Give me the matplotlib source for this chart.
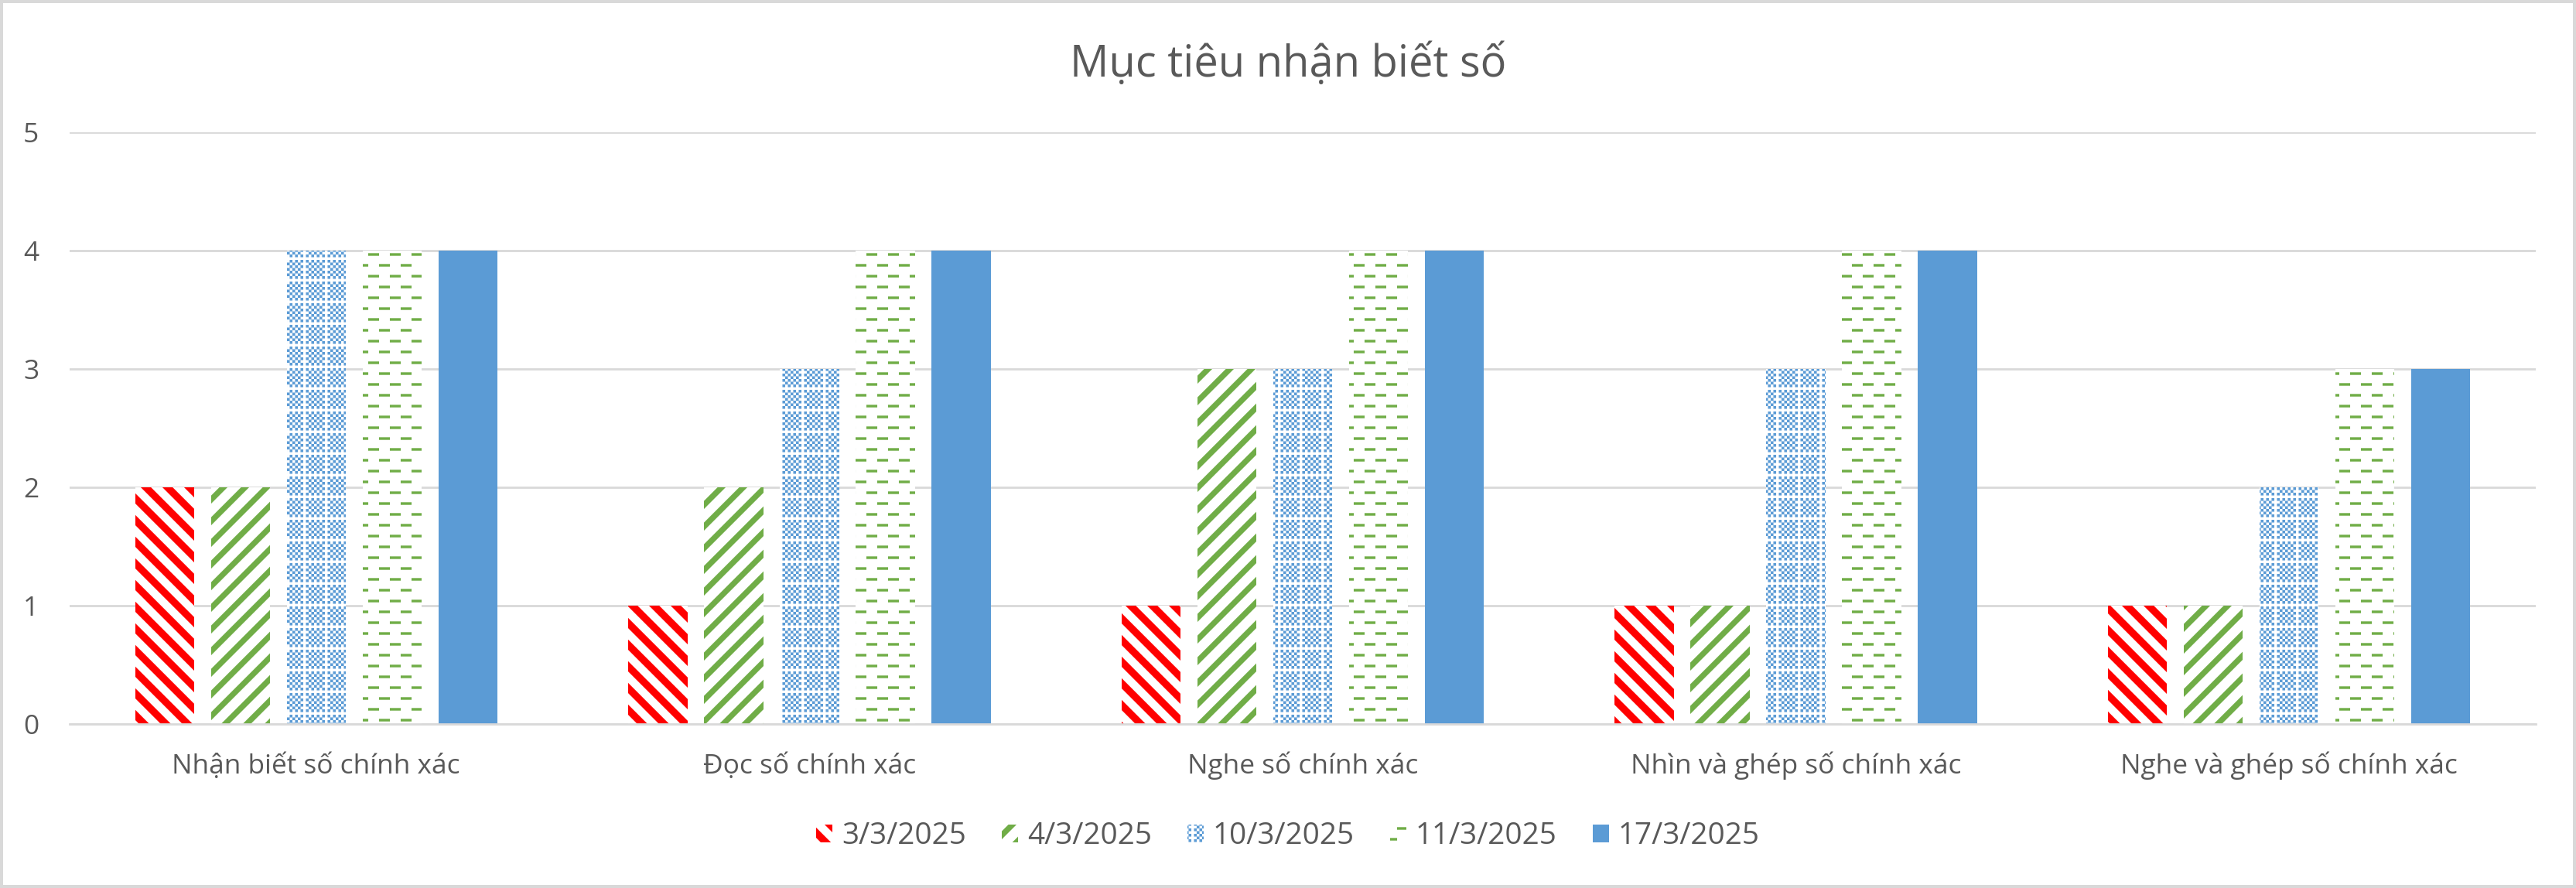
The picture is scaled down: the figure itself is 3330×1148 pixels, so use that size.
import numpy as np
import matplotlib
matplotlib.use('Agg')
import matplotlib.pyplot as plt
import matplotlib.hatch as mhatch
from matplotlib.path import Path

# du lieu doc tu bieu do
title = 'Mục tiêu nhận biết số'
categories = ['Nhận biết số chính xác', 'Đọc số chính xác', 'Nghe số chính xác',
              'Nhìn và ghép số chính xác', 'Nghe và ghép số chính xác']
dates = ['3/3/2025', '4/3/2025', '10/3/2025', '11/3/2025', '17/3/2025']
s_0303 = [2, 1, 1, 1, 1]
s_0403 = [2, 2, 3, 1, 1]
s_1003 = [4, 3, 3, 3, 2]
s_1103 = [4, 4, 4, 4, 3]
s_1703 = [4, 4, 4, 4, 3]
y_ticks = [0, 1, 2, 3, 4, 5]

DPI = 112  # 1 o hatch = 112 px
TEXT = '#595959'
GRID = '#D9D9D9'


# cac mau hatch kieu Excel, ve bang da giac to kin
class FilledHatch(mhatch.HatchPatternBase):
    key = None

    def __init__(self, hatch, density):
        self.polys = self.make() if (hatch and self.key in hatch) else []
        self.num_vertices = 5 * len(self.polys)

    def make(self):
        return []

    def set_vertices_and_codes(self, vertices, codes):
        for k, p in enumerate(self.polys):
            vertices[5 * k:5 * k + 4] = p
            vertices[5 * k + 4] = p[0]
            codes[5 * k] = Path.MOVETO
            codes[5 * k + 1:5 * k + 4] = Path.LINETO
            codes[5 * k + 4] = Path.CLOSEPOLY


class WideDown(FilledHatch):
    key = '\\'

    def make(self):
        n, w = 4, 0.47 / 4
        out = []
        for k in range(-n, 3 * n):
            c = k / n
            out.append([(c + 2, -2), (c + w + 2, -2), (c + w - 3, 3), (c - 3, 3)])
        return out


class WideUp(FilledHatch):
    key = '/'

    def make(self):
        n, w = 4, 0.37 / 4
        out = []
        for k in range(-2 * n, 2 * n):
            c = k / n
            out.append([(-2, c - 2), (3, c + 3), (3, c + 3 + w), (-2, c - 2 + w)])
        return out


class Checker(FilledHatch):
    # o ban co nho, cu 8 o co mot hang/cot trang
    key = 'x'

    def make(self):
        m = 32
        s = 1 / m
        out = []
        for i in range(m):
            for j in range(m):
                if (i + j) % 2 == 0 and i % 8 != 0 and j % 8 != 0:
                    out.append([(i * s, j * s), ((i + 1) * s, j * s),
                                ((i + 1) * s, (j + 1) * s), (i * s, (j + 1) * s)])
        return out


class DashRows(FilledHatch):
    key = '-'

    def make(self):
        rows, per_row = 8, 4
        ln, t = 0.5 / per_row, 0.03
        out = []
        for r in range(rows):
            y = (r + 0.5) / rows
            off = ln if r % 2 else 0
            for d in range(per_row):
                x0 = off + d * 2 * ln
                out.append([(x0, y - t / 2), (x0 + ln, y - t / 2),
                            (x0 + ln, y + t / 2), (x0, y + t / 2)])
        return out


mhatch._hatch_types[:] = [WideDown, WideUp, Checker, DashRows]

plt.rcParams['font.family'] = ['Open Sans', 'DejaVu Sans']
plt.rcParams['hatch.linewidth'] = 0.05

fig = plt.figure(figsize=(3330 / DPI, 1148 / DPI), dpi=DPI)
fig.patch.set_facecolor('white')
fig.patch.set_edgecolor(GRID)
fig.patch.set_linewidth(4)

ax = fig.add_axes([90 / 3330, 212 / 1148, 3188 / 3330, 765 / 1148])

x = np.arange(len(categories))
series = [s_0303, s_0403, s_1003, s_1103, s_1703]
faces = ['white', 'white', 'white', 'white', '#5B9BD5']
edges = ['#FF0000', '#70AD47', '#5B9BD5', '#70AD47', '#5B9BD5']
hatches = ['\\', '/', 'x', '-', None]
width = 0.12
step = 0.1537

for i, vals in enumerate(series):
    ax.bar(x + (i - 2) * step, vals, width, color=faces[i], edgecolor=edges[i],
           linewidth=0, hatch=hatches[i], label=dates[i], zorder=2)

ax.set_xlim(-0.5, 4.5)
ax.set_ylim(0, 5)
ax.set_yticks(y_ticks)
ax.set_xticks(x, categories)

for s in ['top', 'left', 'right']:
    ax.spines[s].set_visible(False)
ax.spines['bottom'].set_color(GRID)
ax.spines['bottom'].set_linewidth(1.8)
ax.yaxis.grid(True, color=GRID, linewidth=1.8)
ax.set_axisbelow(True)

ax.tick_params(length=0, colors=TEXT, labelsize=22.7)
ax.tick_params(axis='y', pad=25.7)
ax.tick_params(axis='x', pad=41)
for lbl in ax.get_xticklabels():
    lbl.set_va('baseline')

fig.text(0.5, 1 - 99 / 1148, title, ha='center', va='baseline',
         fontsize=36, color=TEXT)

fig.legend(loc='center', bbox_to_anchor=(0.5, 67 / 1148), ncol=5, frameon=False,
           fontsize=24.8, handlelength=0.55, handleheight=0.55, handletextpad=0.3,
           columnspacing=1.2, labelcolor=TEXT)

fig.savefig('out.png', dpi=DPI)
